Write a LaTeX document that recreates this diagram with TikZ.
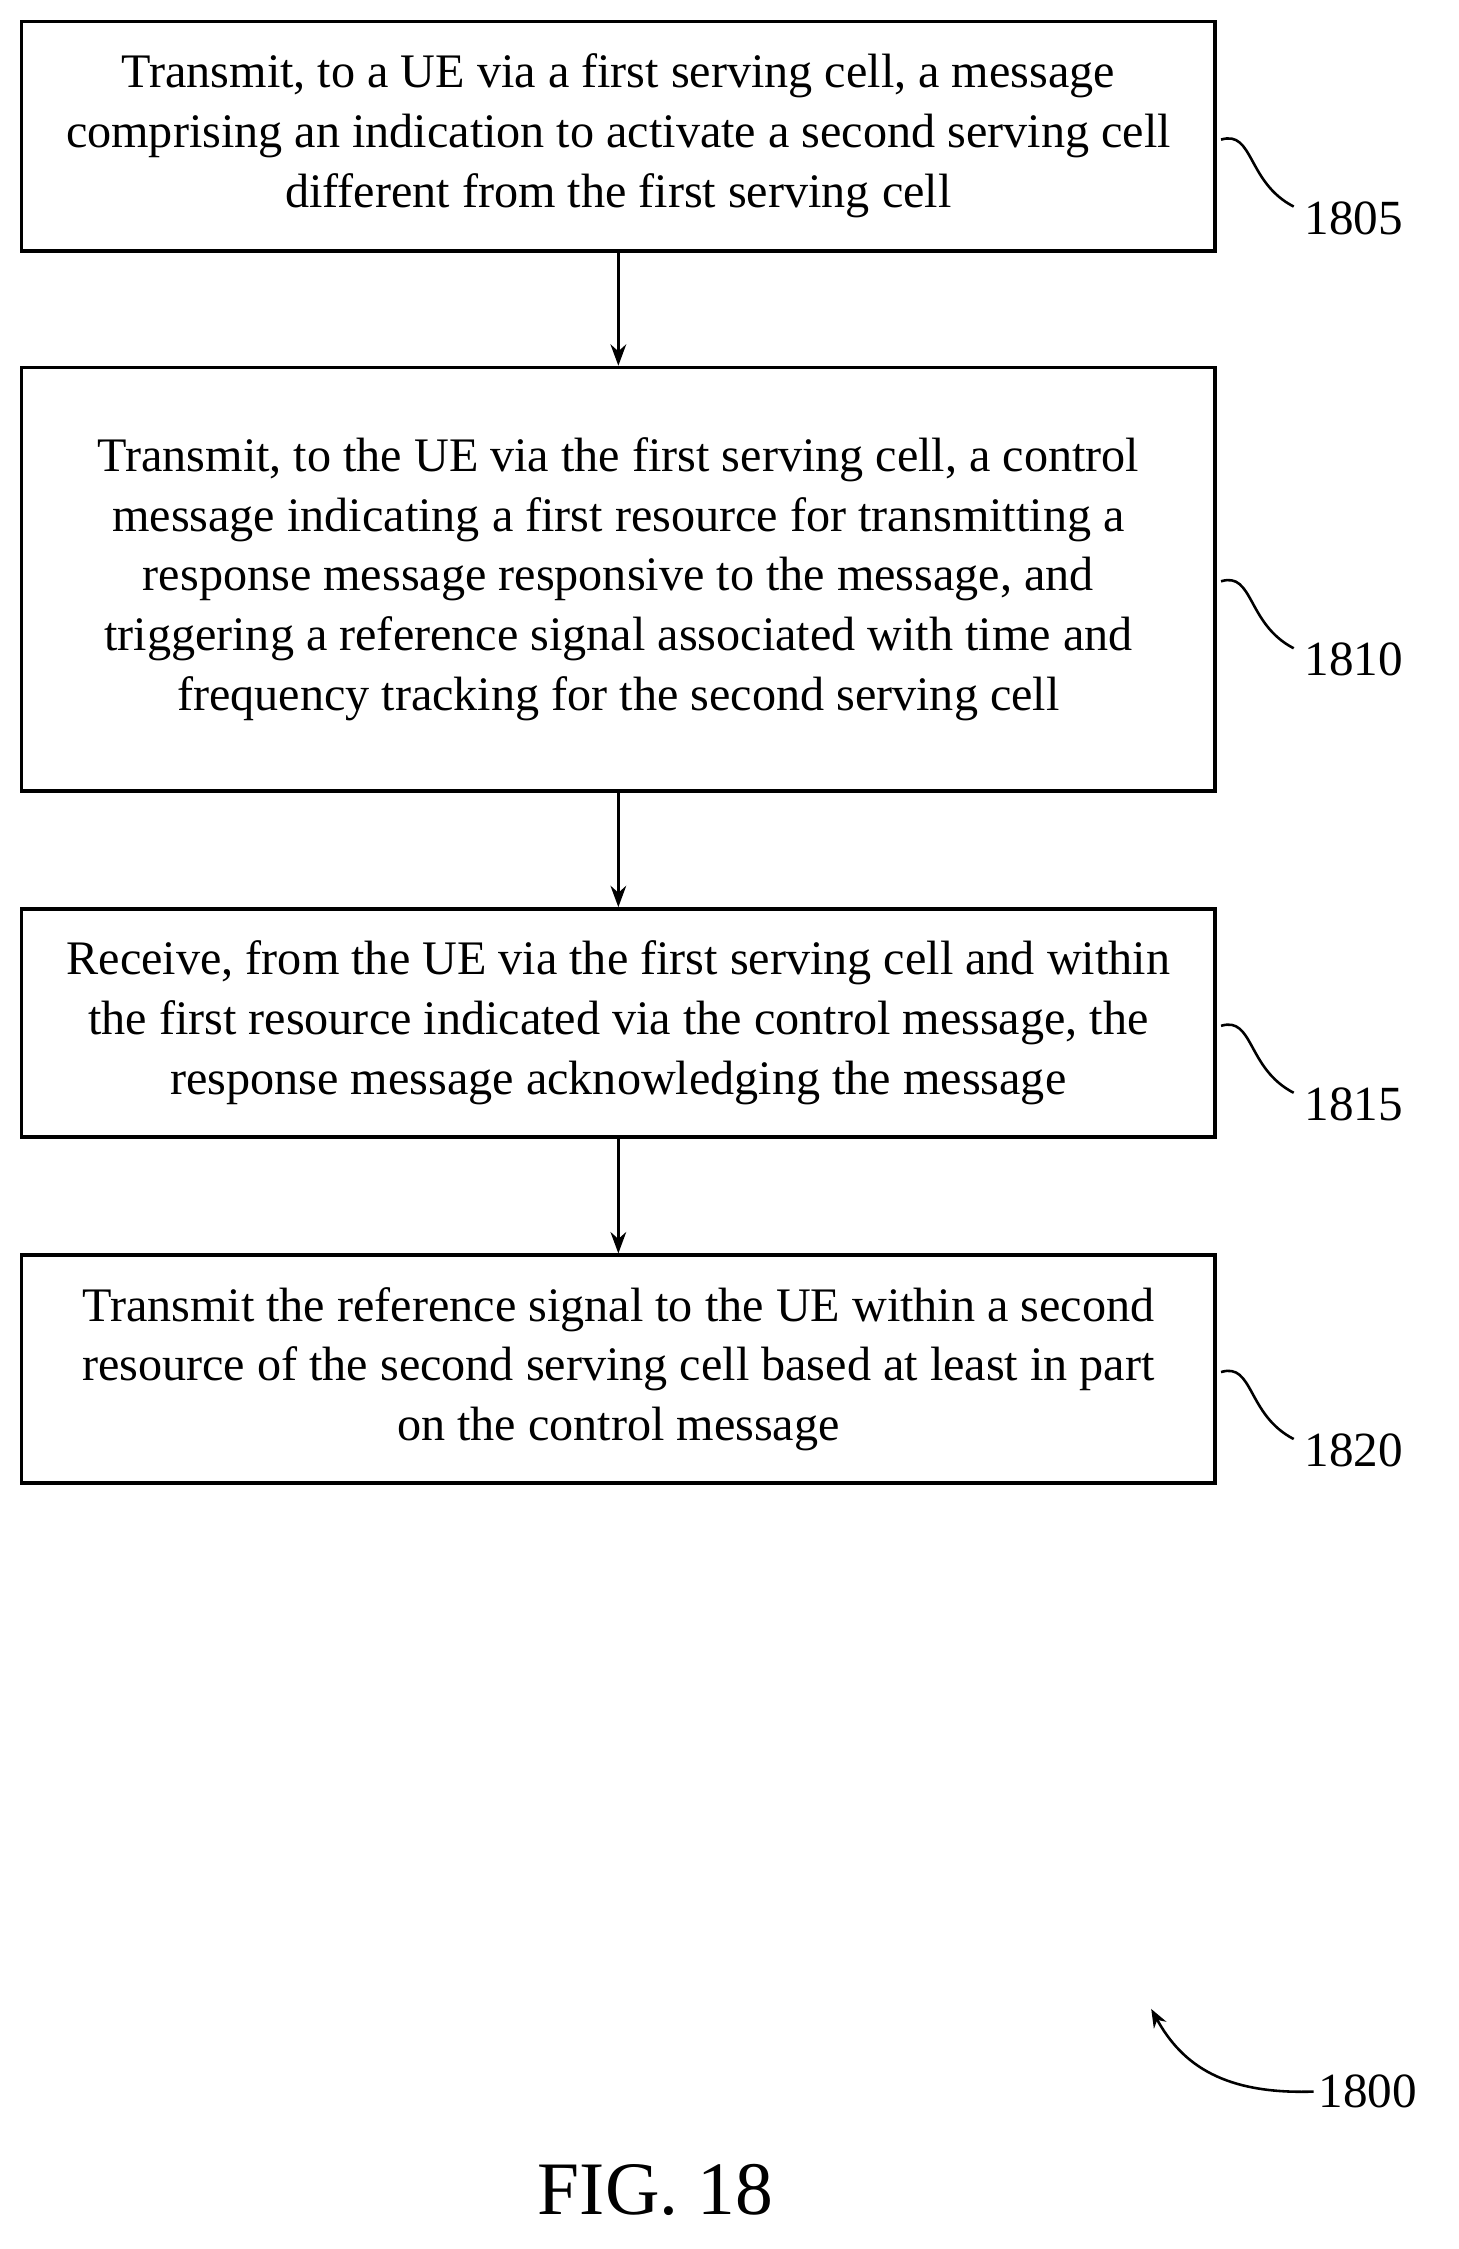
\documentclass[tikz,border=0pt]{standalone}
\usepackage{fontspec}
\setmainfont{Liberation Serif}
\usetikzlibrary{arrows.meta}
\begin{document}
\begin{tikzpicture}[x=1pt,y=-1pt,
  box/.style={draw,line width=2.6pt,minimum width=838pt,inner sep=0pt,align=center,font=\fontsize{33.8}{42}\selectfont},
  arr/.style={-{Stealth[length=15pt,width=11pt]},line width=2pt},
  lab/.style={font=\fontsize{34.5}{38}\selectfont},
  sq/.style={line width=1.8pt}]
\useasboundingbox (0,0) rectangle (1024,1578.5);
\node[box,minimum height=161pt] (b1) at (434,95.5) {Transmit, to a UE via a first serving cell, a message\\comprising an indication to activate a second serving cell\\different from the first serving cell};
\node[box,minimum height=297pt] (b2) at (434,406.5) {Transmit, to the UE via the first serving cell, a control\\message indicating a first resource for transmitting a\\response message responsive to the message, and\\triggering a reference signal associated with time and\\frequency tracking for the second serving cell};
\node[box,minimum height=160pt] (b3) at (434,718) {Receive, from the UE via the first serving cell and within\\the first resource indicated via the control message, the\\response message acknowledging the message};
\node[box,minimum height=160pt] (b4) at (434,961) {Transmit the reference signal to the UE within a second\\resource of the second serving cell based at least in part\\on the control message};
\draw[arr] (b1.south) -- (b2.north);
\draw[arr] (b2.south) -- (b3.north);
\draw[arr] (b3.south) -- (b4.north);
\foreach \b/\n/\y in {b1/1805/153,b2/1810/463,b3/1815/775,b4/1820/1018}{
  \node[lab,anchor=west] (l\n) at (912,\y) {\n};
  \coordinate (s\n) at (857,\y-55);
  \draw[sq] (s\n) .. controls (880,\y-62) and (875,\y-25) .. (908,\y-8);
}
\node[lab,anchor=west] (l1800) at (922,1468) {1800};
\coordinate (t1800) at (808,1410);
\draw[sq,-{Stealth[length=13pt,width=10pt]}] (l1800.west) .. controls (860,1470) and (830,1450) .. (t1800);
\node[font=\fontsize{53}{56}\selectfont] (fig) at (460,1537) {FIG. 18};
\end{tikzpicture}
\end{document}
